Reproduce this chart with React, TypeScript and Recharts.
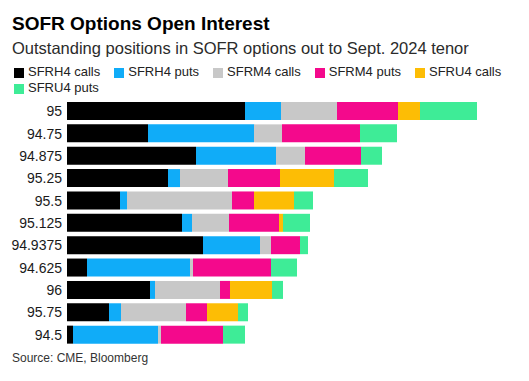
import { Bar, BarChart, XAxis, YAxis } from "recharts";

// strike levels, top to bottom
const strikes = [
  "95",
  "94.75",
  "94.875",
  "95.25",
  "95.5",
  "95.125",
  "94.9375",
  "94.625",
  "96",
  "95.75",
  "94.5",
];

// open interest by contract (same order as strikes)
const sfrh4Calls = [178, 81, 129, 101, 53, 115, 136, 20, 83, 42, 6];
const sfrh4Puts = [36, 106, 80, 12, 7, 10, 57, 103, 5, 12, 85];
const sfrm4Calls = [56, 28, 29, 48, 105, 37, 11, 3, 65, 65, 3];
const sfrm4Puts = [61, 78, 56, 52, 22, 50, 29, 78, 10, 21, 62];
const sfru4Calls = [22, 0, 0, 54, 40, 4, 0, 0, 42, 31, 0];
const sfru4Puts = [57, 37, 21, 34, 19, 27, 8, 26, 11, 10, 22];

const series = [
  { key: "sfrh4Calls", name: "SFRH4 calls", color: "#000000", values: sfrh4Calls },
  { key: "sfrh4Puts", name: "SFRH4 puts", color: "#10acf8", values: sfrh4Puts },
  { key: "sfrm4Calls", name: "SFRM4 calls", color: "#c8c8c8", values: sfrm4Calls },
  { key: "sfrm4Puts", name: "SFRM4 puts", color: "#f4098c", values: sfrm4Puts },
  { key: "sfru4Calls", name: "SFRU4 calls", color: "#fdbd05", values: sfru4Calls },
  { key: "sfru4Puts", name: "SFRU4 puts", color: "#3eec97", values: sfru4Puts },
];

const FONT = '"Liberation Sans", Arial, sans-serif';

export default function App() {
  const data = strikes.map((strike, i) => {
    const row: Record<string, string | number> = { strike };
    for (const s of series) row[s.key] = s.values[i];
    return row;
  });

  return (
    <div
      style={{
        position: "fixed",
        left: 0,
        top: 0,
        width: 529,
        height: 381,
        background: "#fff",
        fontFamily: FONT,
        color: "#000",
      }}
    >
      <div
        style={{
          position: "absolute",
          left: 12,
          top: 14,
          fontSize: 19,
          lineHeight: "19px",
          fontWeight: 700,
          whiteSpace: "nowrap",
        }}
      >
        SOFR Options Open Interest
      </div>
      <div
        style={{
          position: "absolute",
          left: 12,
          top: 40,
          fontSize: 16.5,
          lineHeight: "16.5px",
          color: "#2b2b2b",
          whiteSpace: "nowrap",
        }}
      >
        Outstanding positions in SOFR options out to Sept. 2024 tenor
      </div>
      <div
        style={{
          position: "absolute",
          left: 14,
          top: 63.5,
          width: 500,
          display: "flex",
          flexWrap: "wrap",
          columnGap: 14,
          fontSize: 13,
          lineHeight: "16px",
          color: "#222",
        }}
      >
        {series.map((s) => (
          <div key={s.key} style={{ display: "flex", alignItems: "center" }}>
            <span
              style={{
                display: "inline-block",
                width: 10,
                height: 10,
                marginRight: 4,
                marginTop: 2,
                background: s.color,
              }}
            />
            <span style={{ whiteSpace: "nowrap" }}>{s.name}</span>
          </div>
        ))}
      </div>
      <div style={{ position: "absolute", left: 0, top: 100 }}>
        <BarChart
          width={529}
          height={246}
          data={data}
          layout="vertical"
          margin={{ top: 0, right: 52, bottom: 0, left: 0 }}
          barSize={18}
        >
          <XAxis type="number" domain={[0, 410]} hide />
          <YAxis
            type="category"
            dataKey="strike"
            width={67}
            axisLine={false}
            tickLine={false}
            tickSize={0}
            tickMargin={5}
            tick={{ fill: "#1a1a1a", fontSize: 14, fontFamily: FONT }}
            interval={0}
          />
          {series.map((s) => (
            <Bar
              key={s.key}
              dataKey={s.key}
              name={s.name}
              stackId="oi"
              fill={s.color}
              isAnimationActive={false}
            />
          ))}
        </BarChart>
      </div>
      <div
        style={{
          position: "absolute",
          left: 12,
          top: 352,
          fontSize: 12,
          lineHeight: "12px",
          color: "#333",
          whiteSpace: "nowrap",
        }}
      >
        Source: CME, Bloomberg
      </div>
    </div>
  );
}
